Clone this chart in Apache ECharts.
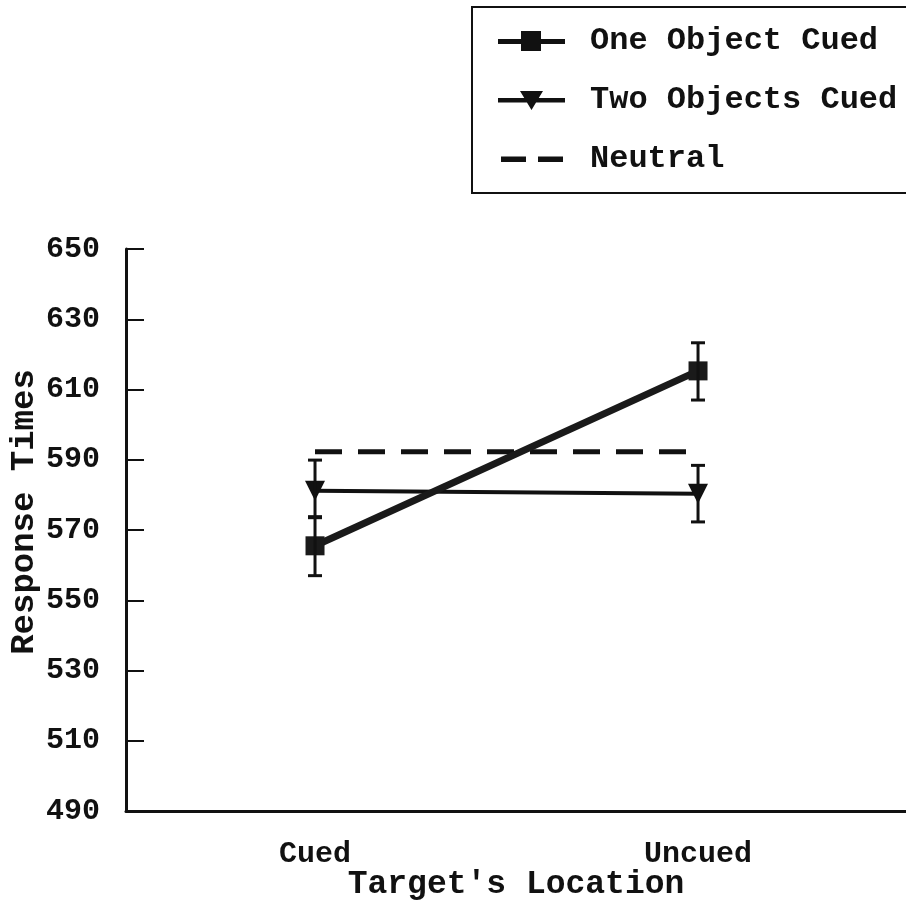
<!DOCTYPE html>
<html>
<head>
<meta charset="utf-8">
<script src="https://cdn.jsdelivr.net/npm/echarts@6/dist/echarts.min.js"></script>
<style>html,body{margin:0;padding:0;background:#fff}#c{width:906px;height:900px}</style>
</head>
<body>
<div id="c"></div>
<script>
// ---- data ----
const categories = ['Cued', 'Uncued'];
const yTicks = [490, 510, 530, 550, 570, 590, 610, 630, 650];
const seriesNames = ['One Object Cued', 'Two Objects Cued', 'Neutral'];
const oneObject = [565.5, 615.3];
const oneObjectLow = [557.0, 607.0];
const oneObjectHigh = [573.8, 623.3];
const twoObjects = [581.2, 580.3];
const twoObjectsLow = [573.5, 572.3];
const twoObjectsHigh = [589.9, 588.4];
const neutral = [592.3, 592.3];

const FONT = '"Liberation Mono", "Courier New", monospace';
const INK = '#111';

const xs = categories.map((c, i) => i + 1);
function pts(vals) { return vals.map((v, i) => [xs[i], v]); }
function errs(lo, hi) { return lo.map((l, i) => [xs[i], l, hi[i]]); }

function errRender(params, api) {
  const x = api.value(0), lo = api.value(1), hi = api.value(2);
  const pTop = api.coord([x, hi]);
  const pBot = api.coord([x, lo]);
  const cap = 7;
  const st = { stroke: INK, lineWidth: 3 };
  return {
    type: 'group',
    children: [
      { type: 'line', shape: { x1: pTop[0], y1: pTop[1], x2: pBot[0], y2: pBot[1] }, style: st },
      { type: 'line', shape: { x1: pTop[0] - cap, y1: pTop[1], x2: pTop[0] + cap, y2: pTop[1] }, style: st },
      { type: 'line', shape: { x1: pBot[0] - cap, y1: pBot[1], x2: pBot[0] + cap, y2: pBot[1] }, style: st }
    ]
  };
}

// legend icons (67 x 20 box; tiny corner specks fix the bounding box)
const box = ' M0 0 L0.01 0 L0 0.01 Z M67 20 L66.99 20 L67 19.99 Z';
const iconOne = 'path://M0 8 L67 8 L67 13 L0 13 Z M23 0 L43 0 L43 20 L23 20 Z' + box;
const iconTwo = 'path://M0 8 L67 8 L67 12.5 L0 12.5 Z M22 1 L45 1 L33.5 20 Z' + box;
const iconNeutral = 'path://M3 7.5 L28 7.5 L28 13 L3 13 Z M40 7.5 L65 7.5 L65 13 L40 13 Z' + box;
const legendIcons = [iconOne, iconTwo, iconNeutral];

const chart = echarts.init(document.getElementById('c'), null, { renderer: 'canvas' });
chart.setOption({
  animation: false,
  backgroundColor: '#fff',
  textStyle: { fontFamily: FONT, fontWeight: 'bold', color: INK },
  grid: { left: 126, right: 0, top: 249, bottom: 89, containLabel: false, outerBoundsMode: 'none' },
  legend: {
    data: seriesNames.map((n, i) => ({ name: n, icon: legendIcons[i] })),
    orient: 'vertical',
    left: 472,
    top: 7,
    padding: [18, 40, 18, 26],
    itemGap: 27,
    itemWidth: 67,
    itemHeight: 20,
    symbolRotate: 0,
    symbolKeepAspect: false,
    itemStyle: { color: INK, borderWidth: 0 },
    borderColor: INK,
    borderWidth: 2,
    textStyle: { fontFamily: FONT, fontWeight: 'bold', fontSize: 32, color: INK, padding: [0, 0, 0, 20] }
  },
  xAxis: {
    type: 'value',
    min: 0.5065,
    max: 2.543,
    splitLine: { show: false },
    axisLine: { show: true, lineStyle: { color: INK, width: 3 } },
    axisTick: { show: false },
    axisLabel: {
      customValues: xs,
      formatter: v => categories[Math.round(v) - 1] || '',
      fontFamily: FONT, fontWeight: 'bold', fontSize: 30, color: INK, margin: 28
    },
    name: "Target's Location",
    nameLocation: 'middle',
    nameGap: 57,
    nameMoveOverlap: false,
    nameTextStyle: { fontFamily: FONT, fontWeight: 'bold', fontSize: 33, color: INK }
  },
  yAxis: {
    type: 'value',
    min: yTicks[0],
    max: yTicks[yTicks.length - 1],
    interval: 20,
    splitLine: { show: false },
    axisLine: { show: true, lineStyle: { color: INK, width: 3 } },
    axisTick: { show: true, inside: true, length: 18, lineStyle: { color: INK, width: 2 } },
    axisLabel: { fontFamily: FONT, fontWeight: 'bold', fontSize: 30, color: INK, margin: 26 }
  },
  graphic: [{
    type: 'text',
    x: 24, y: 512,
    rotation: Math.PI / 2,
    style: {
      text: 'Response Times',
      font: 'bold 34px ' + FONT,
      fill: INK,
      align: 'center',
      verticalAlign: 'middle'
    }
  }],
  series: [
    {
      name: 'Neutral', type: 'line', data: pts(neutral),
      symbol: 'none', color: INK,
      lineStyle: { color: INK, width: 5, type: [27, 16] }, z: 2
    },
    {
      name: 'Two Objects Cued', type: 'line', data: pts(twoObjects),
      symbol: 'triangle', symbolRotate: 180, symbolSize: 20, color: INK,
      itemStyle: { color: INK }, lineStyle: { color: INK, width: 4 }, z: 3
    },
    {
      name: 'One Object Cued', type: 'line', data: pts(oneObject),
      symbol: 'rect', symbolSize: 19, color: INK,
      itemStyle: { color: '#1a1a1a' }, lineStyle: { color: '#1a1a1a', width: 7 }, z: 4
    },
    {
      name: 'errOne', type: 'custom', data: errs(oneObjectLow, oneObjectHigh),
      renderItem: errRender, z: 5, silent: true
    },
    {
      name: 'errTwo', type: 'custom', data: errs(twoObjectsLow, twoObjectsHigh),
      renderItem: errRender, z: 5, silent: true
    }
  ]
});
</script>
</body>
</html>
